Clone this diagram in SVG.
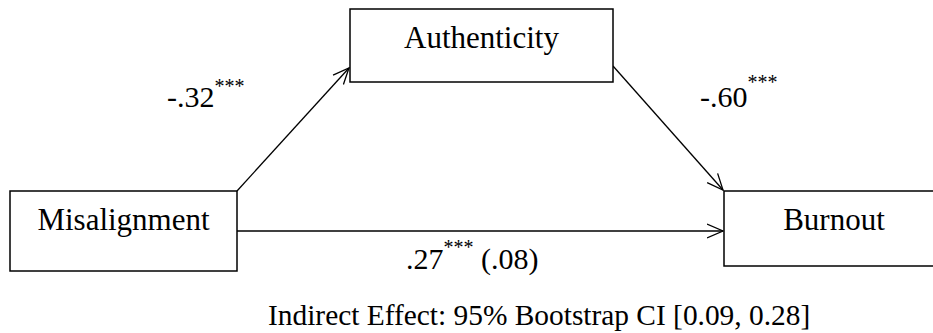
<svg xmlns="http://www.w3.org/2000/svg" width="933" height="333" viewBox="0 0 933 333">
<style>
.box{fill:#fff;stroke:#000;stroke-width:1.5}
.t{font-family:"Liberation Serif","Times New Roman",serif;fill:#000}
.n{font-size:31px}
.l{font-size:30px}
.s{font-size:20px}
.c{stroke:#000;stroke-width:1.3;fill:none}
</style>
<defs>
<marker id="ah" markerUnits="userSpaceOnUse" markerWidth="20" markerHeight="20" refX="16" refY="8" orient="auto" viewBox="0 0 20 16">
<path d="M0,1 L16,8 L0,15" fill="none" stroke="#000" stroke-width="1.3"/>
</marker>
</defs>
<g id="connectors">
<line class="c" x1="237" y1="191" x2="349" y2="68" marker-end="url(#ah)"/>
<line class="c" x1="613" y1="66" x2="723" y2="190" marker-end="url(#ah)"/>
<line class="c" x1="237" y1="231" x2="723" y2="231" marker-end="url(#ah)"/>
</g>
<g id="authenticity">
<rect class="box" x="350" y="9" width="263" height="73"/>
<text class="t n" x="481.5" y="48" text-anchor="middle">Authenticity</text>
</g>
<g id="misalignment">
<rect class="box" x="10" y="191" width="227" height="80"/>
<text class="t n" x="123.5" y="230" text-anchor="middle">Misalignment</text>
</g>
<g id="burnout">
<rect class="box" x="724" y="191" width="220" height="75"/>
<text class="t n" x="834" y="230" text-anchor="middle">Burnout</text>
</g>
<g id="labels">
<text class="t l" x="167" y="107">-.32<tspan class="s" dy="-14">***</tspan></text>
<text class="t l" x="700" y="107">-.60<tspan class="s" dy="-18">***</tspan></text>
<text class="t l" x="406" y="269">.27<tspan class="s" dy="-15">***</tspan><tspan dy="15"> (.08)</tspan></text>
<text class="t" style="font-size:29.4px" x="268" y="325">Indirect Effect: 95% Bootstrap CI [0.09, 0.28]</text>
</g>
</svg>
